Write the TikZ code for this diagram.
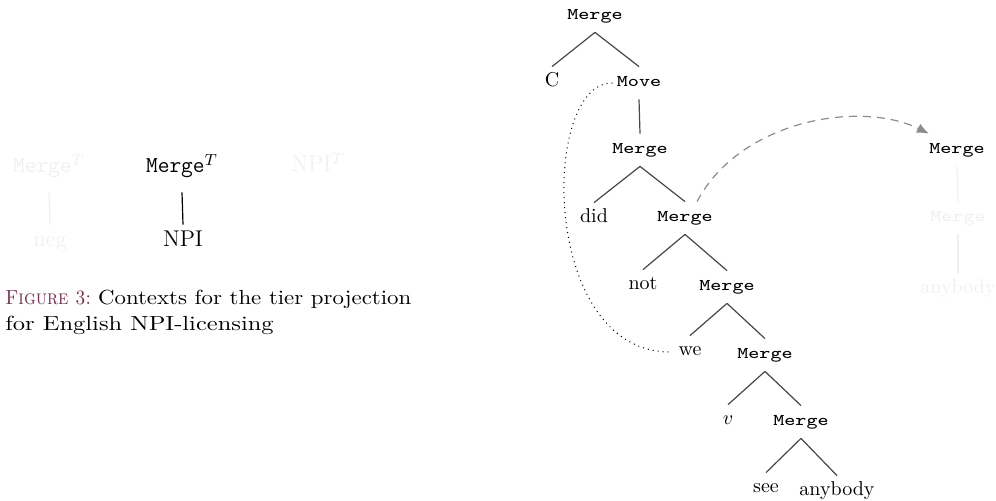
\documentclass[tikz,border=0pt]{standalone}
\usepackage{graphicx}
\usetikzlibrary{arrows.meta}

\definecolor{capcol}{RGB}{122,42,74}
\definecolor{branchcol}{gray}{0.28}
\definecolor{movecol}{gray}{0.55}
\definecolor{faint}{gray}{0.94}

% wide typewriter labels used in the derivation tree
\newcommand{\optt}[1]{\scalebox{1.27}[1]{\fontsize{8.2}{10}\selectfont\ttfamily #1}}

\begin{document}
\begin{tikzpicture}[x=0.5pt,y=-0.5pt,
  tnode/.style={inner xsep=0pt, inner ysep=3.5pt, text height=6.5pt, text depth=2.5pt,
    font=\fontsize{10}{12}\selectfont},
  cnode/.style={inner xsep=0pt, inner ysep=3.5pt, text height=7.5pt, text depth=2.5pt,
    font=\fontsize{11.4}{14}\selectfont},
  cparent/.style={cnode, inner ysep=7pt},
  branch/.style={draw=branchcol, line width=0.6pt},
  faded/.style={text=faint},
  fadedbranch/.style={draw=faint, line width=0.6pt},
]
\useasboundingbox (0,0) rectangle (996,501);

% ---- tier contexts ----
\node[cparent, faded] (ctxa) at (49,168) {\texttt{Merge}$^T$};
\node[cnode, faded] (nega) at (50,242) {neg};
\draw[fadedbranch] (ctxa.south) -- (nega.north);

\node[cparent] (ctxb) at (182,168) {\texttt{Merge}$^T$};
\node[cnode] (npib) at (183,242) {NPI};
\draw[branch, draw=black] (ctxb.south) -- (npib.north);

\node[cnode, faded] (ctxc) at (318,167) {NPI$^T$};

\node[anchor=base west, align=left, inner sep=0pt,
      font=\fontsize{10.2}{13}\selectfont] (cap) at (5,331)
  {{\color{capcol}\scalebox{0.9}[1]{\textsc{Figure 3:}}}\ \scalebox{1.12}[1]{Contexts for the tier projection}\\
   \scalebox{1.2}[1]{for English NPI-licensing}};

% ---- derivation tree ----
\node[tnode] (root) at (595,16) {\optt{Merge}};
\node[tnode] (c)    at (552,83) {C};
\node[tnode] (mv)   at (639,83) {\optt{Move}};
\node[tnode] (m2)   at (640,150) {\optt{Merge}};
\node[tnode] (did)  at (594,219) {did};
\node[tnode] (m3)   at (685,218) {\optt{Merge}};
\node[tnode] (not)  at (643,286) {not};
\node[tnode] (m4)   at (727,287) {\optt{Merge}};
\node[tnode] (we)   at (690,352) {we};
\node[tnode] (m5)   at (765,355) {\optt{Merge}};
\node[tnode] (v)    at (728,421) {$v$};
\node[tnode] (m6)   at (801,422) {\optt{Merge}};
\node[tnode] (see)  at (766,489) {see};
\node[tnode] (any)  at (837,492) {anybody};

\draw[branch] (root.south) -- (c.north);
\draw[branch] (root.south) -- (mv.north);
\draw[branch] (mv.south) -- (m2.north);
\draw[branch] (m2.south) -- (did.north);
\draw[branch] (m2.south) -- (m3.north);
\draw[branch] (m3.south) -- (not.north);
\draw[branch] (m3.south) -- (m4.north);
\draw[branch] (m4.south) -- (we.north);
\draw[branch] (m4.south) -- (m5.north);
\draw[branch] (m5.south) -- (v.north);
\draw[branch] (m5.south) -- (m6.north);
\draw[branch] (m6.south) -- (see.north);
\draw[branch] (m6.south) -- (any.north);

% movement of the subject
\draw[dotted, line width=0.5pt] ([xshift=-2pt]mv.west) .. controls (540,82) and (540,355) .. ([xshift=-3pt]we.west);

% ---- tier projection ----
\node[tnode] (ra) at (957,150) {\optt{Merge}};
\node[tnode, faded] (rb) at (958,218) {\optt{Merge}};
\node[tnode, faded] (rc) at (958,290) {anybody};
\draw[fadedbranch] (ra.south) -- (rb.north);
\draw[fadedbranch] (rb.south) -- (rc.north);

\draw[movecol, dashed, dash pattern=on 4pt off 3pt, line width=0.6pt, -{Latex[length=6pt,width=5pt]}]
  ([xshift=6pt]m3.north) .. controls (740,120) and (860,100) .. (ra.north west);
\end{tikzpicture}
\end{document}
